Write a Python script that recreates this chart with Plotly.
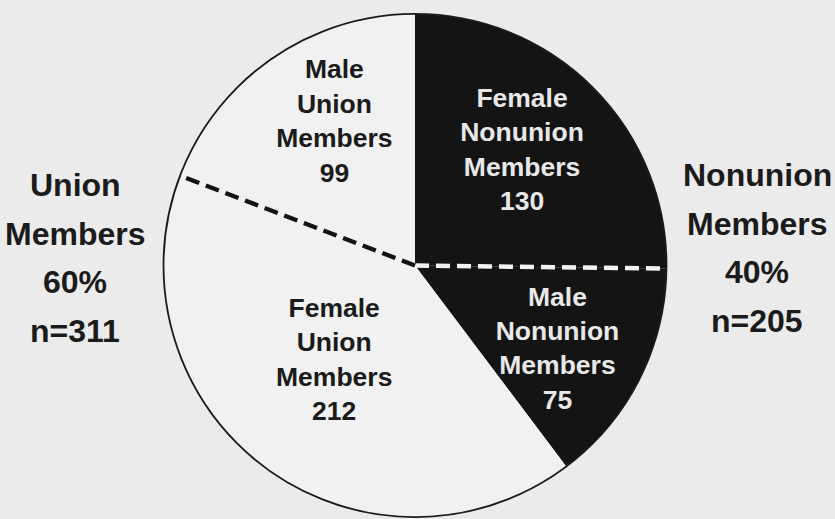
import plotly.graph_objects as go

# ---- data ----
categories = ["Female Nonunion Members", "Male Nonunion Members",
              "Female Union Members", "Male Union Members"]
counts = [130, 75, 212, 99]
groups = ["Nonunion", "Nonunion", "Union", "Union"]

# ---- styling ----
FONT = "Liberation Sans, Arial, sans-serif"
BG = "#ebebeb"
LIGHT = "#f1f1f1"
DARK = "#141414"
INK = "#1b1b1b"
slice_colors = {"Union": LIGHT, "Nonunion": DARK}
text_colors = {"Union": INK, "Nonunion": "#e8e8e8"}
label_r = [0.62, 0.66, 0.50, 0.65]
label_dtheta = [-2, 4, 3, 5]

total = sum(counts)
widths = [c / total * 360 for c in counts]
starts = []
acc = 0.0
for w in widths:
    starts.append(acc)
    acc += w
mids = [s + w / 2 for s, w in zip(starts, widths)]

fig = go.Figure()

fig.add_trace(go.Barpolar(
    r=[1] * len(counts), theta=mids, width=widths,
    marker=dict(color=[slice_colors[g] for g in groups], line=dict(width=0)),
    hoverinfo="skip", showlegend=False,
))

# dashed separators between male / female inside each group
for i in range(1, len(counts)):
    if groups[i] == groups[i - 1]:
        col = "#f2f2f2" if groups[i] == "Nonunion" else DARK
        fig.add_trace(go.Scatterpolar(
            r=[0, 1], theta=[starts[i], starts[i]], mode="lines",
            line=dict(color=col, width=4.5, dash="14px,7px"),
            hoverinfo="skip", showlegend=False,
        ))

# slice labels
fig.add_trace(go.Scatterpolar(
    r=label_r,
    theta=[m + d for m, d in zip(mids, label_dtheta)],
    mode="text",
    text=["<br>".join(c.split(" ")) + "<br>" + str(n) for c, n in zip(categories, counts)],
    textposition="middle center",
    textfont=dict(family=FONT, size=26.5, weight="bold",
                  color=[text_colors[g] for g in groups]),
    hoverinfo="skip", showlegend=False,
))

fig.update_layout(
    width=835, height=519,
    margin=dict(l=0, r=0, t=0, b=0),
    paper_bgcolor=BG, plot_bgcolor=BG,
    polar=dict(
        domain=dict(x=[163 / 835, 667 / 835], y=[2 / 519, 505 / 519]),
        bgcolor="rgba(0,0,0,0)",
        angularaxis=dict(direction="clockwise", rotation=90, showgrid=False,
                         showticklabels=False, ticks="", showline=True,
                         linecolor=INK, linewidth=1.8),
        radialaxis=dict(range=[0, 1], visible=False, showgrid=False),
    ),
)

# group summary annotations, one line at a time
for name, xpos, ytop in [("Union", 75, 185), ("Nonunion", 757, 175)]:
    n = sum(c for c, g in zip(counts, groups) if g == name)
    pct = round(n / total * 100)
    lines = [name, "Members", f"{pct}%", f"n={n}"]
    for k, line in enumerate(lines):
        fig.add_annotation(
            x=xpos / 835, y=1 - (ytop + 48.5 * k) / 519, xref="paper", yref="paper",
            text=line, showarrow=False, xanchor="center", yanchor="middle",
            font=dict(family=FONT, size=32, weight="bold", color=INK),
        )

fig.write_html("out.html", config={"displayModeBar": False},
               post_script="document.body.style.margin='0';document.body.style.overflow='hidden';")
